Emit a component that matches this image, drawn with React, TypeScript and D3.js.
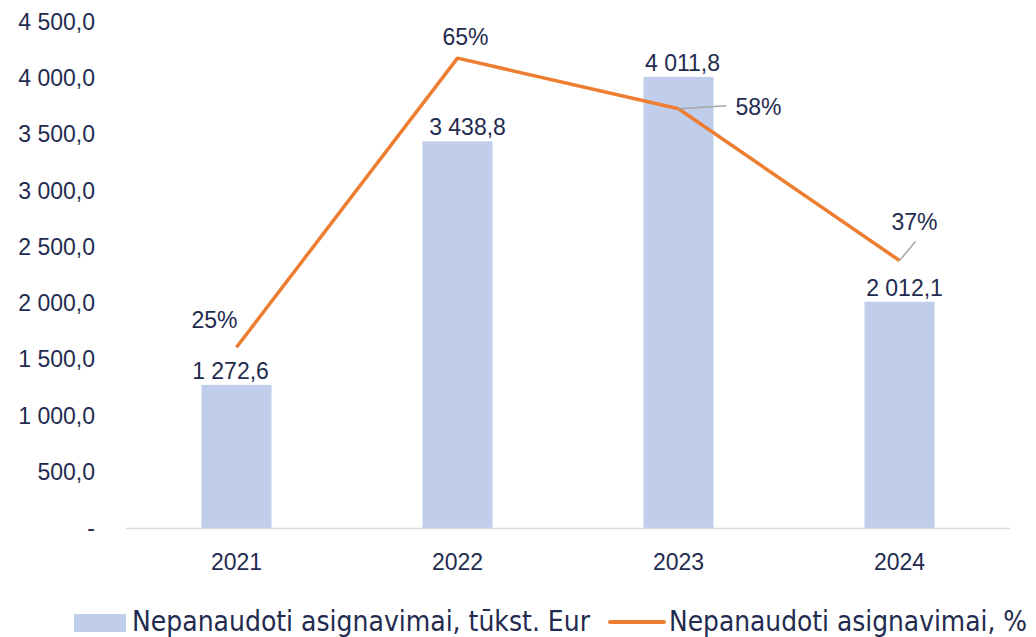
import React from "react";
import * as d3 from "d3";

const years = ["2021", "2022", "2023", "2024"];
const amounts = [1272.6, 3438.8, 4011.8, 2012.1];
const percents = [25, 65, 58, 37];
const leftTicks = [0, 500, 1000, 1500, 2000, 2500, 3000, 3500, 4000, 4500];
const legendLabels = ["Nepanaudoti asignavimai, tūkst. Eur", "Nepanaudoti asignavimai, %"];

const W = 1036;
const H = 637;
const TEXT = "#1F2B4F";
const BAR = "#C0CEEC";
const LINE = "#ED7D31";
const FONT = "'Liberation Sans', Arial, sans-serif";
const NARROW = "'Liberation Sans Narrow', 'DejaVu Sans Condensed', 'Arial Narrow', sans-serif";

const fmtNum = (v: number) => {
  if (v === 0) return "-";
  const [i, d] = v.toFixed(1).split(".");
  const ii = i.replace(/\B(?=(\d{3})+(?!\d))/g, " ");
  return `${ii},${d}`;
};

// layout for manually-placed line labels (offsets from point)
const pctLabelLayout = [
  { dx: -22, dy: -27, anchor: "middle", leader: null as null | [number, number] },
  { dx: 8, dy: -21, anchor: "middle", leader: null as null | [number, number] },
  { dx: 57, dy: -2, anchor: "start", leader: [48, -3] as [number, number] },
  { dx: 15, dy: -39, anchor: "middle", leader: [16, -19] as [number, number] },
];
const barLabelDx = [-6, 10, 4, 5];

export default function App() {
  const x = d3
    .scaleBand<string>()
    .domain(years)
    .range([126, 1010])
    .paddingInner(0.683)
    .paddingOuter(0.683 / 2);
  const yL = d3.scaleLinear().domain([0, 4500]).range([528, 22]);
  const yR = d3.scaleLinear().domain([0, 70]).range([528, 22]);
  const cx = (yr: string) => (x(yr) as number) + x.bandwidth() / 2;

  const line = d3
    .line<number>()
    .x((_, i) => cx(years[i]))
    .y((d) => yR(d));

  return (
    <svg
      width={W}
      height={H}
      style={{ position: "absolute", left: 0, top: 0, background: "#fff" }}
      fontFamily={FONT}
    >
      {/* left axis tick labels */}
      {leftTicks.map((t) => (
        <text
          key={t}
          x={95}
          y={yL(t)}
          dy="0.35em"
          textAnchor="end"
          fontSize={23}
          fill={TEXT}
        >
          {fmtNum(t)}
        </text>
      ))}

      {/* bars */}
      {amounts.map((v, i) => (
        <rect
          key={years[i]}
          x={x(years[i])}
          y={yL(v)}
          width={x.bandwidth()}
          height={yL(0) - yL(v)}
          fill={BAR}
        />
      ))}

      {/* x axis line */}
      <line x1={126} x2={1010} y1={528.5} y2={528.5} stroke="#D9D9D9" strokeWidth={1.5} />

      {/* year labels */}
      {years.map((yr) => (
        <text
          key={yr}
          x={cx(yr)}
          y={562}
          dy="0.35em"
          textAnchor="middle"
          fontSize={23}
          fill={TEXT}
        >
          {yr}
        </text>
      ))}

      {/* bar value labels */}
      {amounts.map((v, i) => (
        <text
          key={"bl" + i}
          x={cx(years[i]) + barLabelDx[i]}
          y={yL(v) - 14}
          dy="0.35em"
          textAnchor="middle"
          fontSize={23}
          fill={TEXT}
        >
          {fmtNum(v)}
        </text>
      ))}

      {/* line */}
      <path
        d={line(percents) || ""}
        fill="none"
        stroke={LINE}
        strokeWidth={3.5}
        strokeLinejoin="round"
      />

      {/* leader lines + percent labels */}
      {percents.map((p, i) => {
        const px = cx(years[i]);
        const py = yR(p);
        const L = pctLabelLayout[i];
        return (
          <g key={"pl" + i}>
            {L.leader && (
              <line
                x1={px}
                y1={py}
                x2={px + L.leader[0]}
                y2={py + L.leader[1]}
                stroke="#A6A6A6"
                strokeWidth={1.5}
              />
            )}
            <text
              x={px + L.dx}
              y={py + L.dy}
              dy="0.35em"
              textAnchor={L.anchor}
              fontSize={23}
              fill={TEXT}
            >
              {p}%
            </text>
          </g>
        );
      })}

      {/* legend */}
      <rect x={74} y={614} width={52} height={18} fill={BAR} />
      <text
        x={132}
        y={631}
        fontFamily={NARROW}
        fontSize={28}
        fill={TEXT}
        textLength={458}
        lengthAdjust="spacingAndGlyphs"
      >
        {legendLabels[0]}
      </text>
      <line x1={610} x2={664} y1={622} y2={622} stroke={LINE} strokeWidth={4} strokeLinecap="round" />
      <text
        x={669}
        y={631}
        fontFamily={NARROW}
        fontSize={28}
        fill={TEXT}
        textLength={358}
        lengthAdjust="spacingAndGlyphs"
      >
        {legendLabels[1]}
      </text>
    </svg>
  );
}
